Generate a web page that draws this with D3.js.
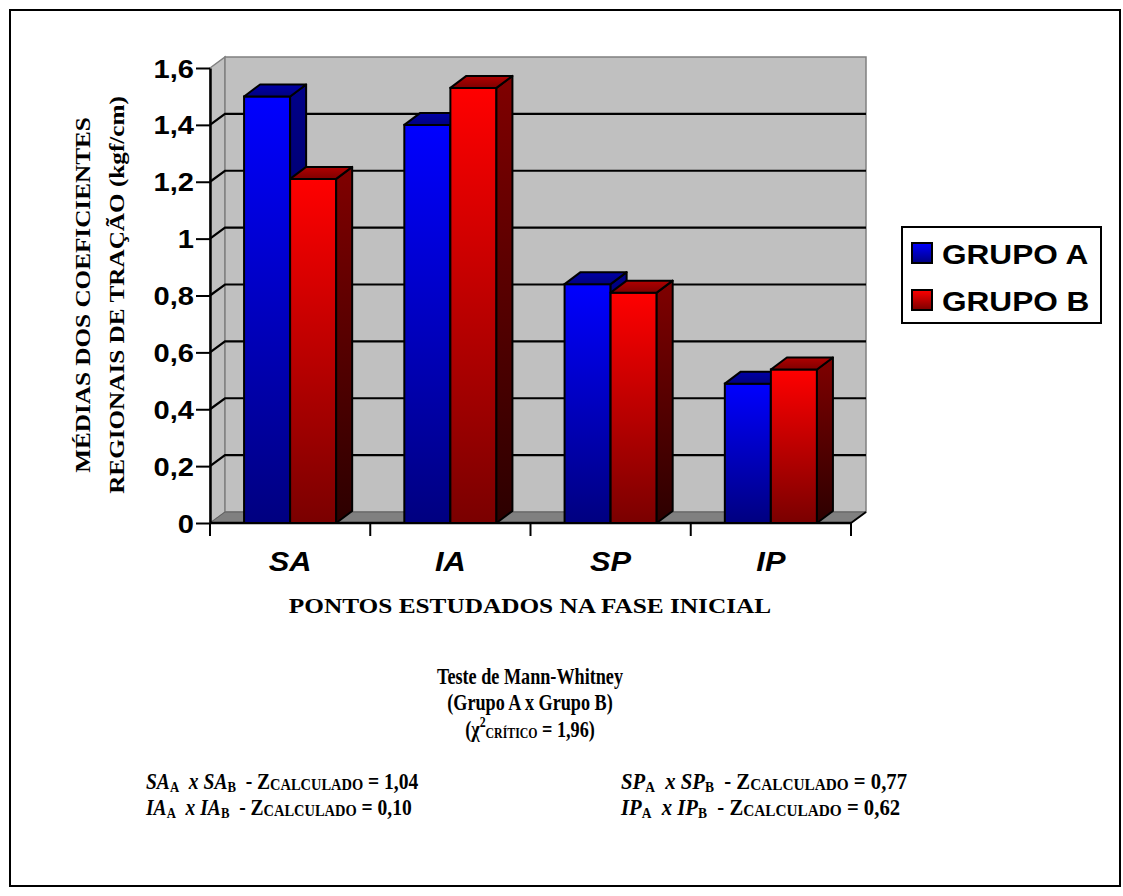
<!DOCTYPE html>
<html>
<head>
<meta charset="utf-8">
<script src="https://cdn.jsdelivr.net/npm/d3@7"></script>
<style>
  body { margin: 0; background: #fff; }
  svg { display: block; }
</style>
</head>
<body>
<div id="chart"></div>
<script>
// data
const categories = ["SA", "IA", "SP", "IP"];
const groups = ["GRUPO A", "GRUPO B"];
const grupoA = [1.50, 1.40, 0.84, 0.49];
const grupoB = [1.21, 1.53, 0.81, 0.54];
const yTicks = [0, 0.2, 0.4, 0.6, 0.8, 1, 1.2, 1.4, 1.6];
const yTickLabels = ["0", "0,2", "0,4", "0,6", "0,8", "1", "1,2", "1,4", "1,6"];
const yTitle = ["MÉDIAS DOS COEFICIENTES", "REGIONAIS DE TRAÇÃO (kgf/cm)"];
const xTitle = "PONTOS ESTUDADOS NA FASE INICIAL";
const testTitle = ["Teste de Mann-Whitney", "(Grupo A x Grupo B)"];
const zCritico = "1,96";
const comparisons = [
  { p: "SA", z: "1,04" }, { p: "IA", z: "0,10" },
  { p: "SP", z: "0,77" }, { p: "IP", z: "0,62" }
];

const width = 1123, height = 896;
const sans = "'Liberation Sans', Arial, sans-serif";
const serif = "'Liberation Serif', 'Times New Roman', serif";
const wide = 1.2;            // chart text is drawn a bit wider than normal
const DX = 15, DY = -11;     // depth of walls
const BDX = 16, BDY = -12;   // depth of bars

const svg = d3.select("#chart").append("svg")
  .attr("width", width).attr("height", height);

const defs = svg.append("defs");
function grad(id, top, bottom) {
  const g = defs.append("linearGradient").attr("id", id)
    .attr("x1", 0).attr("y1", 0).attr("x2", 0).attr("y2", 1);
  g.append("stop").attr("offset", "0%").attr("stop-color", top);
  g.append("stop").attr("offset", "100%").attr("stop-color", bottom);
}
grad("frontA", "#0000ff", "#000080");
grad("sideA", "#000088", "#000038");
grad("topA", "#0000a8", "#000080");
grad("frontB", "#ff0000", "#7a0000");
grad("sideB", "#800000", "#2c0000");
grad("topB", "#b00000", "#800000");
const fills = { "GRUPO A": ["frontA", "sideA", "topA"], "GRUPO B": ["frontB", "sideB", "topB"] };

// outer frame
svg.append("rect").attr("x", 10).attr("y", 10).attr("width", 1110).attr("height", 876)
  .attr("fill", "none").attr("stroke", "#000").attr("stroke-width", 2);

const y = d3.scaleLinear().domain([0, 1.6]).range([523, 68]);
const x0 = d3.scaleBand().domain(categories).range([210, 851]);
const x1 = d3.scaleBand().domain(groups).range([0, x0.bandwidth()]).paddingOuter(0.74);

const left = x0.range()[0], right = x0.range()[1];
const y0 = y(0), yMax = y(1.6);

// walls and floor
const walls = svg.append("g");
walls.append("polygon")
  .attr("points", [[left, yMax], [left + DX, yMax + DY], [left + DX, y0 + DY], [left, y0]].join(" "))
  .attr("fill", "#c0c0c0").attr("stroke", "#808080").attr("stroke-width", 1.5);
walls.append("rect")
  .attr("x", left + DX).attr("y", yMax + DY).attr("width", right - left).attr("height", y0 - yMax)
  .attr("fill", "#c0c0c0").attr("stroke", "#808080").attr("stroke-width", 1.5);
walls.append("polygon")
  .attr("points", [[left, y0], [left + DX, y0 + DY], [right + DX, y0 + DY], [right, y0]].join(" "))
  .attr("fill", "#808080").attr("stroke", "#606060").attr("stroke-width", 1);

// gridlines on back wall + side wall
walls.selectAll(".grid").data(yTicks.filter(d => d > 0 && d < 1.6)).enter().append("polyline")
  .attr("class", "grid")
  .attr("points", d => [[left, y(d)], [left + DX, y(d) + DY], [right + DX, y(d) + DY]].join(" "))
  .attr("fill", "none").attr("stroke", "#000").attr("stroke-width", 2.2);

// y axis
const yAxis = d3.axisLeft(y).tickValues(yTicks).tickSize(14).tickSizeOuter(0)
  .tickFormat((d, i) => yTickLabels[i]);
const yg = svg.append("g").attr("transform", `translate(${left},0)`).call(yAxis);
yg.select(".domain").attr("stroke", "#000").attr("stroke-width", 2.5);
yg.selectAll(".tick line").attr("stroke", "#000").attr("stroke-width", 2);
yg.selectAll(".tick text")
  .attr("x", null).attr("dy", null)
  .attr("transform", `translate(-16,9) scale(1.12,1)`)
  .attr("text-anchor", "end")
  .attr("font-family", sans).attr("font-weight", "bold").attr("font-size", 26).attr("fill", "#000");

// x axis line, boundary ticks, right floor edge
const xg = svg.append("g");
xg.append("line").attr("x1", left).attr("x2", right).attr("y1", y0).attr("y2", y0)
  .attr("stroke", "#000").attr("stroke-width", 2.5);
xg.append("line").attr("x1", right).attr("y1", y0).attr("x2", right + DX).attr("y2", y0 + DY)
  .attr("stroke", "#000").attr("stroke-width", 2);
const bounds = categories.map(c => x0(c)).concat([right]);
xg.selectAll(".xt").data(bounds).enter().append("line")
  .attr("x1", d => d).attr("x2", d => d).attr("y1", y0).attr("y2", y0 + 13)
  .attr("stroke", "#000").attr("stroke-width", 2);
xg.selectAll(".cat").data(categories).enter().append("text")
  .attr("transform", d => `translate(${x0(d) + x0.bandwidth() / 2},571) scale(1.1,1)`)
  .attr("text-anchor", "middle")
  .attr("font-family", sans).attr("font-weight", "bold").attr("font-style", "italic")
  .attr("font-size", 28).text(d => d);

// bars
const rows = categories.map((c, i) => ({ cat: c, vals: [grupoA[i], grupoB[i]] }));
const bars = svg.append("g");
rows.forEach(r => {
  groups.forEach((gname, j) => {
    const v = r.vals[j];
    const bx = x0(r.cat) + x1(gname), bw = x1.bandwidth(), yt = y(v);
    const f = fills[gname];
    const b = bars.append("g");
    b.append("rect").attr("x", bx).attr("y", yt).attr("width", bw).attr("height", y0 - yt)
      .attr("fill", `url(#${f[0]})`).attr("stroke", "#000").attr("stroke-width", 2);
    b.append("polygon")
      .attr("points", [[bx + bw, yt], [bx + bw + BDX, yt + BDY], [bx + bw + BDX, y0 + BDY], [bx + bw, y0]].join(" "))
      .attr("fill", `url(#${f[1]})`).attr("stroke", "#000").attr("stroke-width", 2).attr("stroke-linejoin", "round");
    b.append("polygon")
      .attr("points", [[bx, yt], [bx + BDX, yt + BDY], [bx + bw + BDX, yt + BDY], [bx + bw, yt]].join(" "))
      .attr("fill", `url(#${f[2]})`).attr("stroke", "#000").attr("stroke-width", 2).attr("stroke-linejoin", "round");
  });
});

// axis titles
svg.append("text")
  .attr("transform", `translate(530,613) scale(1.15,1)`)
  .attr("text-anchor", "middle").attr("font-family", serif).attr("font-weight", "bold")
  .attr("font-size", 22).text(xTitle);
yTitle.forEach((t, i) => {
  svg.append("text")
    .attr("transform", `translate(${90 + i * 34},295) rotate(-90) scale(${wide},1)`)
    .attr("text-anchor", "middle").attr("font-family", serif).attr("font-weight", "bold")
    .attr("font-size", 21).text(t);
});

// legend
const lg = svg.append("g");
lg.append("rect").attr("x", 902).attr("y", 227).attr("width", 199).attr("height", 96)
  .attr("fill", "#fff").attr("stroke", "#000").attr("stroke-width", 2);
groups.forEach((gname, j) => {
  lg.append("rect").attr("x", 912).attr("y", 243 + j * 47).attr("width", 20).attr("height", 20)
    .attr("fill", `url(#${fills[gname][0]})`).attr("stroke", "#000").attr("stroke-width", 2);
  lg.append("text")
    .attr("transform", `translate(942,${264 + j * 47}) scale(1.17,1)`)
    .attr("font-family", sans).attr("font-weight", "bold").attr("font-size", 27).text(gname);
});

// statistics block
const st = svg.append("g").attr("font-family", serif).attr("font-weight", "bold").attr("fill", "#000");
testTitle.forEach((t, i) => {
  st.append("text").attr("transform", `translate(530,${684 + i * 26}) scale(0.79,1)`)
    .attr("text-anchor", "middle").attr("font-size", 23).text(t);
});
const chi = st.append("text").attr("transform", `translate(530,737) scale(0.79,1)`)
  .attr("text-anchor", "middle").attr("font-size", 23);
chi.append("tspan").text("(χ");
chi.append("tspan").attr("font-size", 15).attr("dy", -10).text("2");
chi.append("tspan").attr("font-size", 15).attr("dy", 11).text("CRÍTICO");
chi.append("tspan").attr("dy", -1).text(" = " + zCritico + ")");

comparisons.forEach((c, i) => {
  const cx = i < 2 ? 146 : 621;
  const cy = 789 + (i % 2) * 26;
  const sc = i < 2 ? 0.85 : 0.9;
  const t = st.append("text").attr("transform", `translate(${cx},${cy}) scale(${sc},1)`)
    .attr("font-size", 23);
  t.append("tspan").attr("font-style", "italic").text(c.p);
  t.append("tspan").attr("font-size", 15).attr("dy", 3).text("A");
  t.append("tspan").attr("font-style", "italic").attr("dy", -3).text("\u00a0\u00a0x " + c.p);
  t.append("tspan").attr("font-size", 15).attr("dy", 3).text("B");
  t.append("tspan").attr("dy", -3).text("\u00a0\u00a0- Z");
  t.append("tspan").attr("font-size", 17).attr("dy", 1).text("CALCULADO");
  t.append("tspan").attr("dy", -1).text(" = " + c.z);
});
</script>
</body>
</html>
